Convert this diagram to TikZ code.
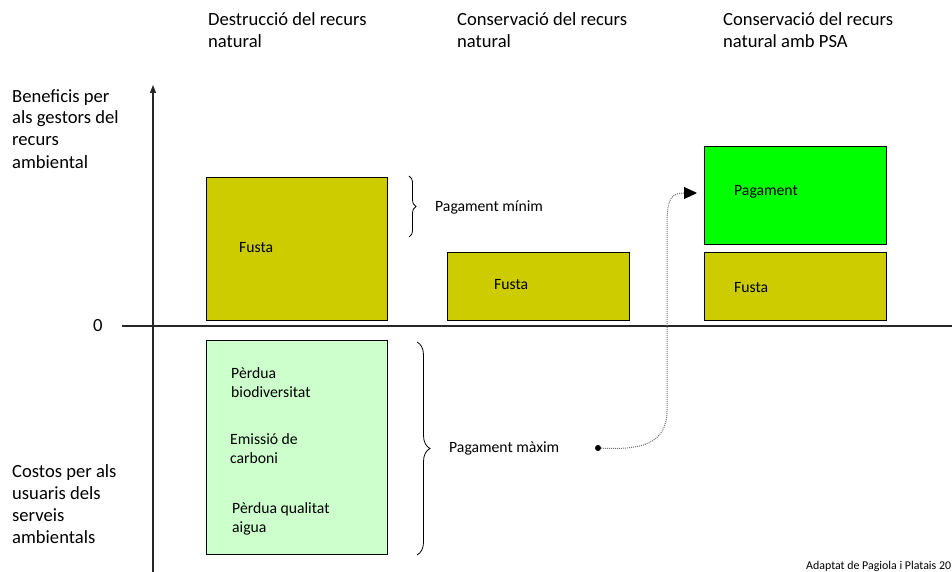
\documentclass[tikz,border=0pt]{standalone}
\usepackage{fontspec}
\setmainfont{Carlito}
\usetikzlibrary{arrows.meta,decorations.pathreplacing}
\definecolor{fusta}{HTML}{CCCC00}
\definecolor{pagam}{HTML}{00FF00}
\definecolor{costos}{HTML}{CCFFCC}
\begin{document}
\begin{tikzpicture}[x=1pt,y=-1pt,
  big/.style={font=\fontsize{18.6}{22}\selectfont, inner sep=0pt, anchor=base west, align=left},
  small/.style={font=\fontsize{15.7}{19}\selectfont, inner sep=0pt, anchor=base west, align=left},
  bar/.style={draw=black, line width=1pt, anchor=north west, inner sep=0pt},
  axis/.style={draw=black!85, line width=1.3pt},
  bracestyle/.style={draw=black, line width=0.8pt, decorate}]
\useasboundingbox (0,0) rectangle (952,572);
% headers (base anchor = baseline of the last line)
\node[big] (h1) at (208,48) {Destrucció del recurs\\natural};
\node[big] (h2) at (457,48) {Conservació del recurs\\natural};
\node[big] (h3) at (723,48) {Conservació del recurs\\natural amb PSA};
% side labels
\node[big] (ben) at (12,168) {Beneficis per\\als gestors del\\recurs\\ambiental};
\node[big] (cos) at (12,543) {Costos per als\\usuaris dels\\serveis\\ambientals};
\node[big] (zero) at (93,331) {0};
% axes
\coordinate (yb) at (153,572);
\coordinate (yt) at (153,85);
\coordinate (xl) at (122,326);
\coordinate (xr) at (952,326);
\draw[axis] (xl) -- (xr);
\draw[axis, -{Triangle[length=8pt,width=6pt]}] (yb) -- (yt);
% boxes
\node[bar, fill=fusta, minimum width=181pt, minimum height=143pt] (b1) at (206,177) {};
\node[bar, fill=fusta, minimum width=182pt, minimum height=68pt] (b2) at (447,252) {};
\node[bar, fill=pagam, minimum width=182pt, minimum height=98pt] (g3) at (704,146) {};
\node[bar, fill=fusta, minimum width=182pt, minimum height=68pt] (b3) at (704,252) {};
\node[bar, fill=costos, minimum width=181pt, minimum height=214pt] (c1) at (206,340) {};
% box texts
\node[small] (t1) at (239,252) {Fusta};
\node[small] (t2) at (494,289) {Fusta};
\node[small] (t3) at (734,196) {Pagament};
\node[small] (t4) at (734,292) {Fusta};
\node[small] (p1) at (231,397) {Pèrdua\\biodiversitat};
\node[small] (p2) at (230,463) {Emissió de\\carboni};
\node[small] (p3) at (232,532) {Pèrdua qualitat\\aigua};
% braces
\coordinate (br1a) at (409,176);
\coordinate (br1b) at (409,237);
\draw[bracestyle, decoration={brace, amplitude=7pt}] (br1a) -- (br1b);
\node[small] (pmin) at (435,211) {Pagament mínim};
\coordinate (br2a) at (417,342);
\coordinate (br2b) at (417,555);
\draw[bracestyle, decoration={brace, amplitude=13pt}] (br2a) -- (br2b);
\node[small] (pmax) at (449,452) {Pagament màxim};
% dotted arrow
\node[circle, fill=black, inner sep=0pt, minimum size=6pt] (dot) at (598,448) {};
\coordinate (tip) at (697,193);
\draw[densely dotted, draw=black!55, line width=1pt, -{Triangle[length=13pt,width=12pt,color=black]}]
  (dot) .. controls (640,450) and (667,445) .. (667,410) -- (667,225) .. controls (667,197) and (672,193) .. (tip);
% source
\node[font=\fontsize{11.9}{14}\selectfont, inner sep=0pt, anchor=base west] (src) at (806,569) {Adaptat de Pagiola i Platais 20};
\end{tikzpicture}
\end{document}
